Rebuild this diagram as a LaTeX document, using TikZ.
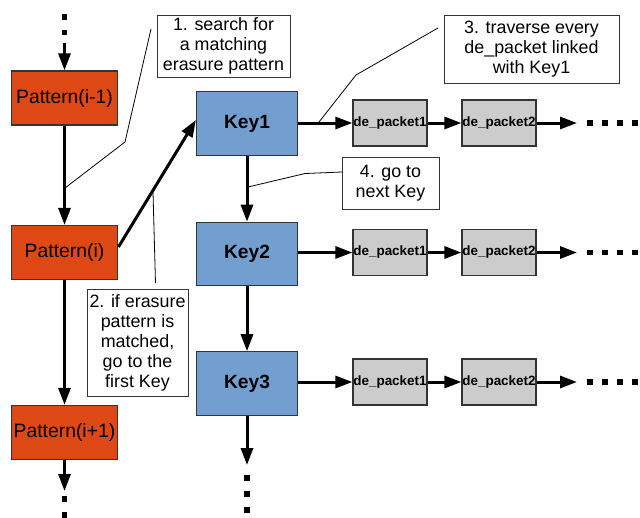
\documentclass[tikz,border=0pt]{standalone}
\usepackage{fontspec}
\setmainfont{Liberation Sans}
\usetikzlibrary{arrows.meta}
\definecolor{patfill}{RGB}{221,72,20}
\definecolor{keyfill}{RGB}{114,159,207}
\definecolor{pktfill}{RGB}{204,204,204}
\definecolor{edge}{RGB}{52,52,52}
\tikzset{
  patbox/.style={draw=edge, line width=0.9pt, fill=patfill, inner sep=0pt,
    minimum width=80pt, minimum height=40.5pt, font=\fontsize{14.5}{17}\selectfont},
  keybox/.style={draw=edge, line width=0.9pt, fill=keyfill, inner sep=0pt,
    minimum width=75.75pt, minimum height=47.5pt, font=\fontsize{14.4}{17}\selectfont\bfseries},
  pktbox/.style={draw=edge, line width=0.9pt, fill=pktfill, inner sep=0pt,
    minimum width=55.5pt, minimum height=34.5pt, font=\fontsize{10.1}{12}\selectfont\bfseries},
  note/.style={draw=edge, line width=0.75pt, fill=white, inner sep=0pt, align=center,
    font=\fontsize{13.4}{15}\selectfont},
  flow/.style={line width=2.25pt, -{Triangle[length=12.75pt, width=9pt]}},
  lead/.style={line width=0.6pt},
  dot/.style={fill=black, minimum size=3.9pt, inner sep=0pt, draw=none}
}
\begin{document}
\begin{tikzpicture}[x=0.75pt, y=-0.75pt]
\useasboundingbox (0,0) rectangle (640,518);

% pattern column
\node[patbox] (p0) at (64.5,98) {Pattern(i-1)};
\node[patbox] (p1) at (64.5,252.5) {Pattern(i)};
\node[patbox] (p2) at (64.5,432.5) {Pattern(i+1)};

% key column
\node[keybox] (k1) at (247,123.5) {Key1};
\node[keybox] (k2) at (247,254) {Key2};
\node[keybox] (k3) at (247,383.5) {Key3};

% packet lists
\node[pktbox] (a1) at (390,123) {de\_packet1};
\node[pktbox] (b1) at (499,123) {de\_packet2};
\node[pktbox] (a2) at (390,252.5) {de\_packet1};
\node[pktbox] (b2) at (499,252.5) {de\_packet2};
\node[pktbox] (a3) at (390,382) {de\_packet1};
\node[pktbox] (b3) at (499,382) {de\_packet2};

% loose ends of the chains
\coordinate (ptop) at (64.5,43);
\coordinate (pbot) at (64.5,491);
\coordinate (kbot) at (247,465);
\coordinate (e1) at (577,123);
\coordinate (e2) at (577,252.5);
\coordinate (e3) at (577,382);

% dots
\foreach \y [count=\i] in {17,32.5} \node[dot] (dt\i) at (64.5,\y) {};
\foreach \y [count=\i] in {499,515} \node[dot] (db\i) at (64.5,\y) {};
\foreach \y [count=\i] in {478,494,510} \node[dot] (dk\i) at (247,\y) {};
\foreach \yy [count=\r] in {123,252.5,382}
  \foreach \x [count=\i] in {590,605,620,635} \node[dot] (dr\r\i) at (\x,\yy) {};

% arrows
\draw[flow] (ptop) -- (p0);
\draw[flow] (p0) -- (p1);
\draw[flow] (p1) -- (p2);
\draw[flow] (p2.south) -- (pbot);
\draw[flow] (p1.east |- 0,247) -- (k1.west |- 0,120);
\draw[flow] (k1) -- (k2);
\draw[flow] (k2) -- (k3);
\draw[flow] (k3) -- (kbot);
\draw[flow] (k1.east |- a1) -- (a1);
\draw[flow] (a1) -- (b1);
\draw[flow] (b1) -- (e1);
\draw[flow] (k2.east |- a2) -- (a2);
\draw[flow] (a2) -- (b2);
\draw[flow] (b2) -- (e2);
\draw[flow] (k3.east |- a3) -- (a3);
\draw[flow] (a3) -- (b3);
\draw[flow] (b3) -- (e3);

% callouts
\node[note, minimum width=99.75pt, minimum height=46.5pt] (n1) at (223.5,46)
  {1. search for\\a matching\\erasure pattern};
\node[note, minimum width=75.75pt, minimum height=80.25pt] (n2) at (137.5,342.5)
  {2. if erasure\\pattern is\\matched,\\go to the\\first Key};
\node[note, minimum width=131.25pt, minimum height=51pt] (n3) at (531.5,49)
  {3. traverse every\\de\_packet linked\\with Key1};
\node[note, minimum width=72.75pt, minimum height=39pt] (n4) at (390.5,183)
  {4. go to\\next Key};

\coordinate (c1a) at (151,29);
\coordinate (c1b) at (125,142);
\coordinate (c1c) at (65,188);
\coordinate (c2a) at (153,192);
\coordinate (c2b) at (155.5,283);
\coordinate (c3a) at (438,28);
\coordinate (c3b) at (356,75);
\coordinate (c3c) at (319,122);
\coordinate (c4a) at (342,172);
\coordinate (c4b) at (305,173.5);
\coordinate (c4c) at (248,187);

\draw[lead] (c1a) -- (c1b) -- (c1c);
\draw[lead] (c2a) -- (c2b);
\draw[lead] (c3a) -- (c3b) -- (c3c);
\draw[lead] (c4a) -- (c4b) -- (c4c);
\end{tikzpicture}
\end{document}
